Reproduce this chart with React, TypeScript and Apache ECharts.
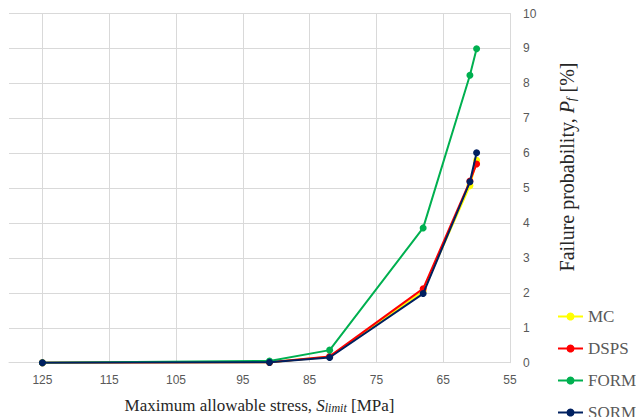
import React, { useEffect, useRef } from "react";
import * as echarts from "echarts";

const stress = [125, 91, 82, 68, 61, 60];
const mcValues = [0, 0.01, 0.17, 2.05, 5.07, 5.8];
const dspsValues = [0, 0.01, 0.18, 2.12, 5.2, 5.69];
const formValues = [0, 0.05, 0.36, 3.86, 8.23, 8.99];
const sormValues = [0, 0.01, 0.15, 1.98, 5.18, 6.01];
const xTicks = [55, 65, 75, 85, 95, 105, 115, 125];
const seriesNames = ["MC", "DSPS", "FORM", "SORM"];
const seriesColors = ["#FFFF00", "#FF0000", "#00B050", "#002060"];
const seriesValues = [mcValues, dspsValues, formValues, sormValues];

const SERIF = '"Liberation Serif", "Times New Roman", serif';
const SANS = '"Liberation Sans", Arial, sans-serif';

export default function App() {
  const ref = useRef<HTMLDivElement>(null);
  useEffect(() => {
    if (!ref.current) return;
    const chart = echarts.init(ref.current, undefined, { renderer: "svg" });
    chart.setOption({
      animation: false,
      backgroundColor: "#ffffff",
      textStyle: { fontFamily: "Liberation Serif" },
      grid: {
        left: 9,
        right: 126,
        top: 13.5,
        bottom: 54.3,
        containLabel: false,
        outerBoundsMode: "none",
      },
      legend: {
        orient: "vertical",
        left: 557,
        top: 308,
        padding: 0,
        height: 200,
        itemWidth: 25,
        itemHeight: 10,
        itemGap: 15,
        data: seriesNames,
        formatter: "{a|{name}}",
        textStyle: {
          fontFamily: "Liberation Serif",
          fontSize: 17,
          fontWeight: "normal",
          color: "#595959",
          lineHeight: 17,
          rich: {
            a: { fontFamily: "Liberation Serif", fontSize: 17, color: "#595959", lineHeight: 17 },
          },
        },
      },
      xAxis: {
        type: "value",
        min: 55,
        max: 130,
        inverse: true,
        axisLine: { show: true, lineStyle: { color: "#D9D9D9", width: 1 } },
        axisTick: { show: false, customValues: xTicks },
        axisLabel: { customValues: xTicks, color: "#595959", fontSize: 12, fontFamily: SANS, margin: 11 },
        splitLine: { show: true, lineStyle: { color: "#D9D9D9", width: 1 } },
        name: "Maximum allowable stress, {i|S}{s|limit} [MPa]",
        nameLocation: "middle",
        nameGap: 34,
        nameTextStyle: {
          fontFamily: SERIF,
          fontSize: 17,
          color: "#262626",
          rich: {
            i: { fontFamily: SERIF, fontSize: 17, fontStyle: "italic", color: "#262626" },
            s: { fontFamily: SERIF, fontSize: 12, fontStyle: "italic", color: "#262626", verticalAlign: "bottom" },
          },
        },
      },
      yAxis: {
        type: "value",
        position: "right",
        min: 0,
        max: 10,
        interval: 1,
        axisLine: { show: true, lineStyle: { color: "#D9D9D9", width: 1 } },
        axisTick: { show: false },
        axisLabel: { color: "#595959", fontSize: 12, fontFamily: SANS, margin: 13 },
        splitLine: { show: true, lineStyle: { color: "#D9D9D9", width: 1 } },
      },
      graphic: [
        {
          type: "text",
          x: 567,
          y: 167,
          rotation: Math.PI / 2,
          style: {
            text: "Failure probability, {i|P}{s|f} [%]",
            font: `20px ${SERIF}`,
            fill: "#262626",
            align: "center",
            verticalAlign: "middle",
            textAlign: "center",
            textVerticalAlign: "middle",
            rich: {
              i: { fontFamily: SERIF, fontSize: 20, fontStyle: "italic", fill: "#262626" },
              s: { fontFamily: SERIF, fontSize: 13, fontStyle: "italic", fill: "#262626", verticalAlign: "bottom" },
            },
          },
        },
      ],
      series: seriesNames.map((name, k) => ({
        name,
        type: "line",
        data: stress.map((x, i) => [x, seriesValues[k][i]]),
        symbol: "circle",
        symbolSize: 7,
        showSymbol: true,
        lineStyle: { color: seriesColors[k], width: 2 },
        itemStyle: { color: seriesColors[k] },
        z: 2 + k,
      })),
    });
    return () => chart.dispose();
  }, []);
  return (
    <div
      ref={ref}
      style={{ position: "fixed", left: 0, top: 0, width: 636, height: 417 }}
    />
  );
}
